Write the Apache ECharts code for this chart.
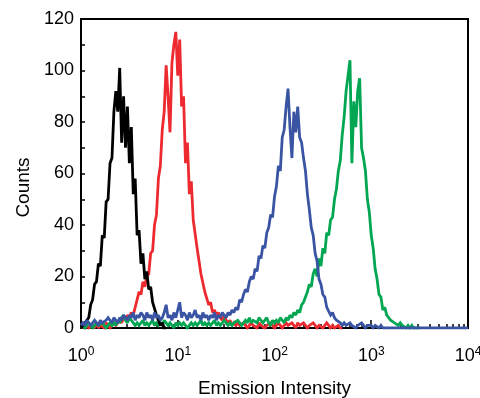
<!DOCTYPE html>
<html><head><meta charset="utf-8">
<script src="https://cdn.jsdelivr.net/npm/echarts@6/dist/echarts.min.js"></script>
<style>html,body{margin:0;padding:0;background:#fff}#c{width:480px;height:398px}</style>
</head><body><div id="c"></div>
<script>
// Histogram bins: 50 log-spaced channels per decade, starting at 10^0
const binsPerDecade = 50;

const blackCounts = [
  0,1,1,3,4,9,11,17,18,25,
  24,36,35,49,50,64,66,84,92,84,
  101,72,90,70,86,64,78,52,58,36,
  38,25,29,19,22,15,16,10,10,5,
  5,1,2,0,0
];

const redCounts = [
  0,1,0,1,0,0,1,0,2,0, 1,1,0,2,1,0,1,2,1,2,
  3,2,4,3,5,4,6,5,8,11,
  14,13,18,16,20,21,29,30,40,44,
  58,63,77,84,102,90,76,103,110,115,
  98,112,86,90,64,72,52,57,42,42,
  31,31,21,21,14,14,9,10,6,7,
  5,6,4,3,5,3,2,3,1,2,
  1,2,1,1,2,1,0,1,2,1,
  1,0,2,1,1,0,1,1,2,1,
  0,1,2,1,0,1,2,1,1,2,
  1,0,2,1,1,2,1,0,1,1,
  2,1,0,1,1,0,1,2,1,0,
  1,0,0,1,0,0
];

const greenCounts = [
  0,1,0,1,2,1,0,1,2,1,
  1,2,1,0,1,2,1,2,1,3,
  2,4,5,3,2,4,3,2,1,2,
  1,2,3,1,2,1,2,3,1,2,
  1,2,1,3,2,1,2,1,0,2,
  1,2,1,2,1,0,1,2,1,2,
  1,2,3,1,2,1,2,1,2,3,
  1,2,1,2,3,2,1,2,1,2,
  2,3,2,1,2,3,2,4,2,3,
  3,2,4,3,2,3,4,
  2,1,3,2,3,2,4,3,2,4,
  3,5,4,6,5,7,6,9,10,12,
  14,17,16,21,23,20,27,24,31,29,
  37,36,42,43,50,54,61,65,75,82,
  92,98,104,64,88,78,92,97,70,66,
  61,50,45,36,31,23,19,13,12,7,
  8,5,4,3,3,2,2,1,2,1,
  1,0,1,0,1,0,0,0,0
];

const blueCounts = [
  1,2,1,3,2,1,2,3,2,1,
  3,2,2,3,4,3,2,4,3,2,
  4,3,5,4,3,5,4,6,3,5,
  4,6,5,3,6,4,5,3,6,4,
  5,3,4,6,9,4,5,3,6,4,
  7,10,4,6,5,3,6,4,5,7,
  4,5,3,6,4,5,3,5,4,6,
  3,5,4,6,5,4,6,5,7,6,
  8,7,11,10,13,15,14,18,20,19,
  23,22,28,27,32,31,37,39,44,43,
  51,55,63,61,74,77,86,93,78,66,
  84,76,86,74,72,66,61,52,46,39,
  36,29,26,19,17,13,12,8,8,5,
  6,4,3,3,2,1,2,1,1,2,
  1,1,0,1,1,2,1,0,1,1,
  1,0,1,1,0,1,0,0,0,0,
  0,0,0,0,0,0,0,0,0,0,
  0,0,0,0,0,0,0,0,0,0,
  0,0,0,0,0,0,0,0,0,0,
  0,0,0,0,0,0,0,0,0,0,0
];

const yTicks = [0, 20, 40, 60, 80, 100, 120];
const xDecades = [0, 1, 2, 3, 4];

const binIntensity = i => Math.pow(10, i / binsPerDecade);
const toPairs = arr => arr.map((c, i) => [binIntensity(i), c]);

const font = '"Liberation Sans", Arial, sans-serif';
const chart = echarts.init(document.getElementById('c'), null, {renderer: 'canvas'});

function lineSeries(name, arr, color) {
  return {
    name, type: 'line', data: toPairs(arr), showSymbol: false, symbol: 'none',
    sampling: null, clip: true, animation: false,
    lineStyle: {color, width: 2.8, join: 'miter', miterLimit: 2}, itemStyle: {color}
  };
}

chart.setOption({
  animation: false,
  backgroundColor: '#fff',
  grid: {left: 81, right: 12, top: 19, bottom: 70, containLabel: false, outerBoundsMode: 'none',
         show: true, borderColor: '#000', borderWidth: 2, backgroundColor: 'transparent'},
  xAxis: {
    type: 'log', logBase: 10,
    min: Math.pow(10, xDecades[0]), max: Math.pow(10, xDecades[xDecades.length - 1]),
    name: 'Emission Intensity', nameLocation: 'middle', nameGap: 51,
    nameTextStyle: {fontSize: 19, color: '#000', fontFamily: font},
    axisLine: {show: true, onZero: false, lineStyle: {color: '#000', width: 2}},
    axisTick: {show: true, inside: true, length: 8, lineStyle: {color: '#000', width: 1.5}},
    minorTick: {show: true, splitNumber: 9, length: 4, lineStyle: {color: '#000', width: 1.5}},
    splitLine: {show: false}, minorSplitLine: {show: false},
    axisLabel: {
      margin: 18, color: '#000',
      formatter: v => '{b|10}{s|' + Math.round(Math.log10(v)) + '}',
      rich: {
        b: {fontSize: 18, lineHeight: 20, fontFamily: font, color: '#000'},
        s: {fontSize: 12, lineHeight: 12, verticalAlign: 'top', fontFamily: font, color: '#000'}
      }
    }
  },
  yAxis: {
    type: 'value', min: yTicks[0], max: yTicks[yTicks.length - 1], interval: yTicks[1] - yTicks[0],
    name: 'Counts', nameLocation: 'middle', nameGap: 46,
    nameTextStyle: {fontSize: 19, color: '#000', fontFamily: font, padding: [0, 28, 0, 0]},
    axisLine: {show: true, lineStyle: {color: '#000', width: 2}},
    axisTick: {show: true, inside: true, length: 4, lineStyle: {color: '#000', width: 1.5}},
    minorTick: {show: true, splitNumber: 2, length: 4, lineStyle: {color: '#000', width: 1.5}},
    splitLine: {show: false},
    axisLabel: {margin: 7, fontSize: 18, color: '#000', fontFamily: font}
  },
  series: [
    lineSeries('red', redCounts, '#ED2A30'),
    lineSeries('green', greenCounts, '#00A651'),
    lineSeries('black', blackCounts, '#000000'),
    lineSeries('blue', blueCounts, '#3A54A4')
  ]
});
</script>
</body></html>
